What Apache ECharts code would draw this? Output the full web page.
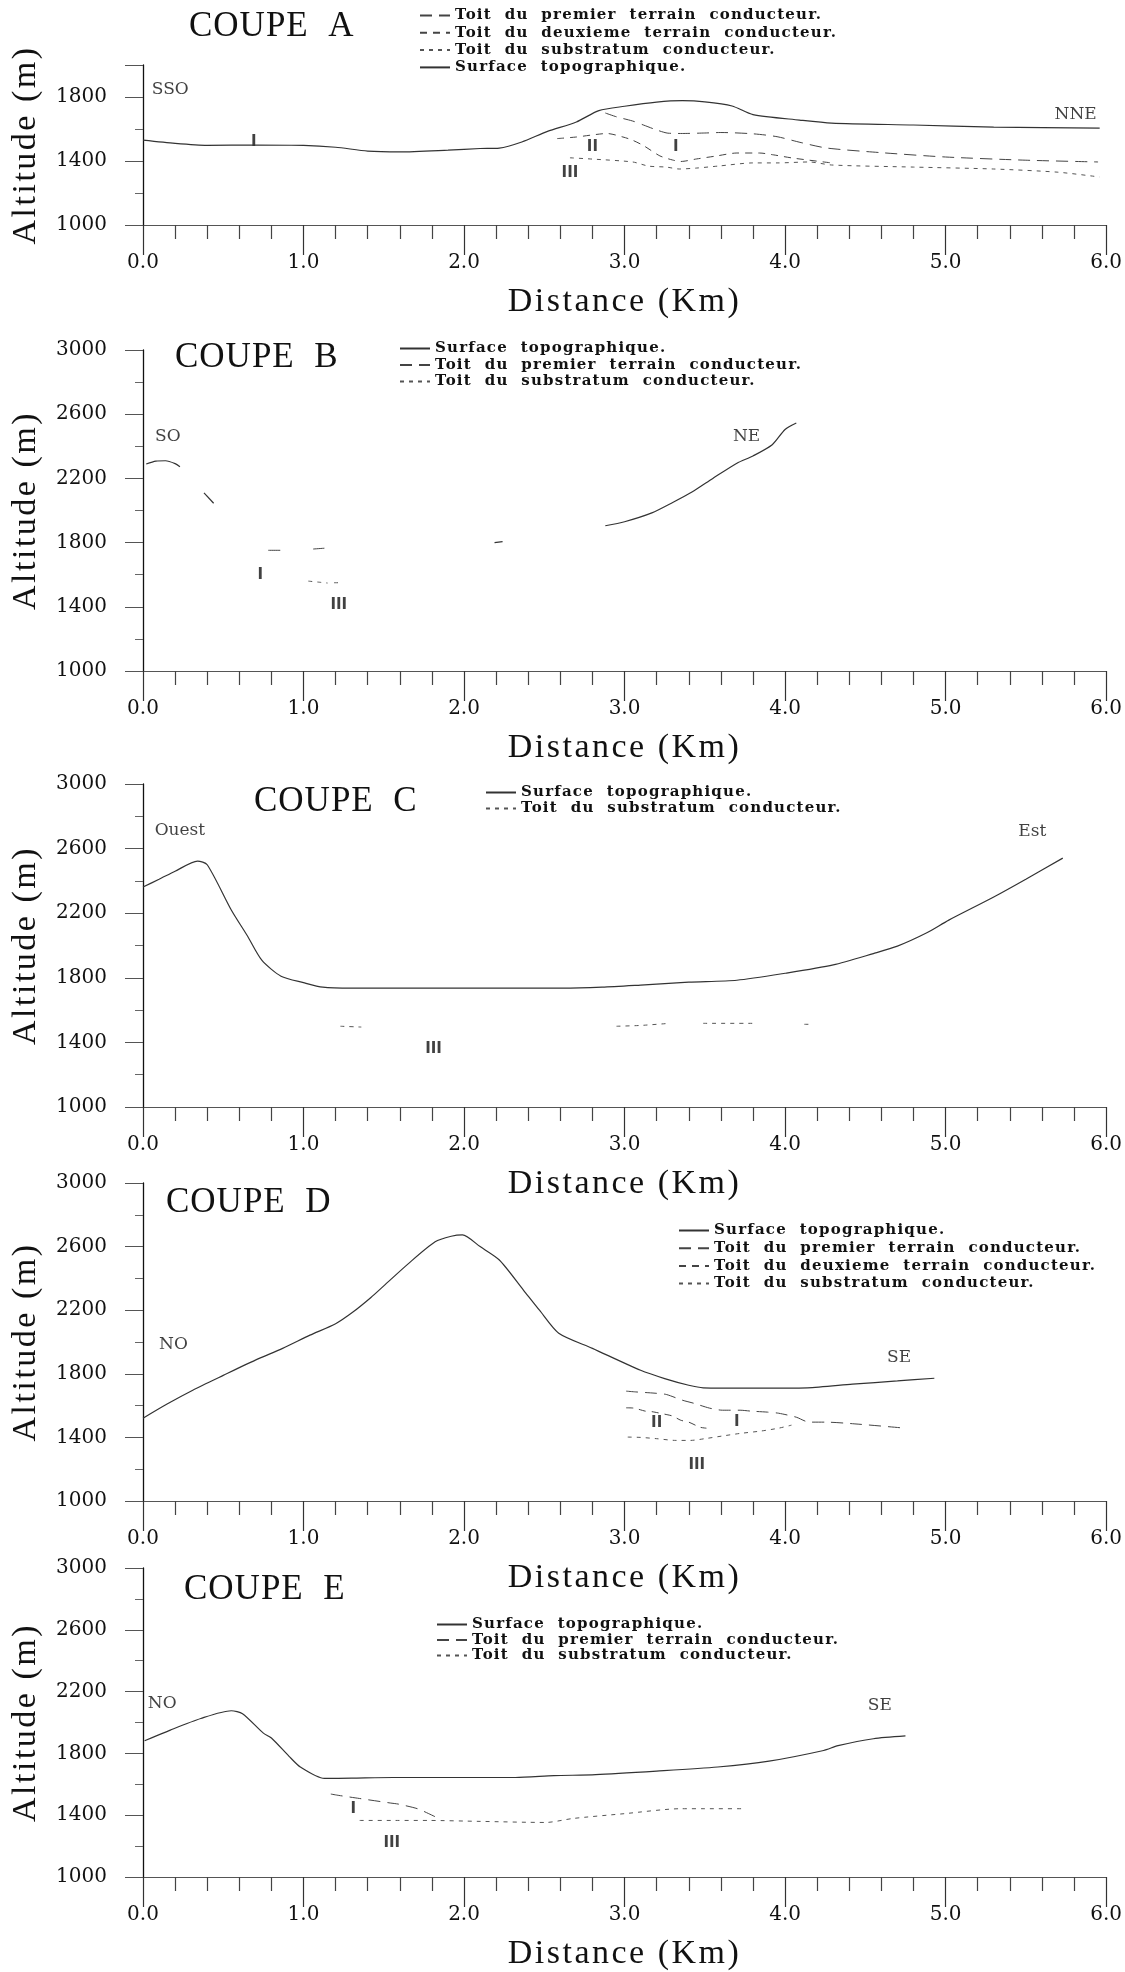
<!DOCTYPE html>
<html><head><meta charset="utf-8">
<script src="https://cdn.jsdelivr.net/npm/echarts@6/dist/echarts.min.js"></script>
<style>html,body{margin:0;padding:0;background:#fff}#c{width:1125px;height:1972px}</style>
</head><body><div id="c"></div>
<script>
// plotter-like letter spacing for some texts (text stays real canvas text)
(function(){
  const P = CanvasRenderingContext2D.prototype;
  if (!('letterSpacing' in P)) return;
  const orig = P.fillText;
  P.fillText = function(t, x, y, w){
    const f = this.font || '';
    let ls = '0px';
    if (/Liberation Serif/.test(f)) {
      if (/(^|\s)35px/.test(f)) ls = '1px';
      else if (/(^|\s)34px/.test(f)) ls = '2.5px';
    } else if (/DejaVu Serif/.test(f) && /(bold|700)/.test(f) && /(^|\s)15px/.test(f)) ls = '1.2px';
    this.letterSpacing = ls;
    return w === undefined ? orig.call(this, t, x, y) : orig.call(this, t, x, y, w);
  };
})();

// ---------- names ----------
const N_TOPO = 'Surface topographique.';
const N_I = 'Toit du premier terrain conducteur.';
const N_II = 'Toit du deuxieme terrain conducteur.';
const N_III = 'Toit du substratum conducteur.';
const xTickLabels = ['0.0','1.0','2.0','3.0','4.0','5.0','6.0'];

// ---------- COUPE A (distance km, altitude m); each array = list of segments ----------
const topoA = [[[0.0,1530],[0.2,1510],[0.4,1498],[0.7,1500],[1.0,1498],[1.2,1486],[1.4,1462],[1.6,1457],[1.9,1468],[2.1,1478],[2.22,1481],[2.36,1519],[2.52,1585],[2.70,1644],[2.84,1715],[3.0,1742],[3.2,1768],[3.36,1777],[3.5,1770],[3.67,1744],[3.80,1690],[4.09,1656],[4.29,1637],[4.8,1625],[5.3,1612],[5.96,1606]]];
const premA = [[[2.88,1700],[2.95,1676],[3.05,1650],[3.12,1624],[3.2,1594],[3.27,1574],[3.36,1572],[3.5,1575],[3.6,1578],[3.8,1570],[3.95,1552],[4.1,1515],[4.26,1481],[4.6,1452],[5.0,1425],[5.5,1405],[5.95,1394]]];
const deuxA = [[[2.58,1540],[2.7,1550],[2.8,1563],[2.89,1572],[2.99,1550],[3.05,1530],[3.12,1495],[3.22,1432],[3.3,1406],[3.35,1397],[3.45,1413],[3.57,1431],[3.7,1450],[3.84,1450],[3.93,1438],[4.05,1418],[4.29,1388]]];
const substA = [[[2.66,1420],[2.8,1412],[3.05,1394],[3.15,1368],[3.26,1362],[3.34,1350],[3.45,1356],[3.59,1369],[3.8,1388],[3.95,1388],[4.15,1394],[4.29,1375],[4.8,1362],[5.3,1350],[5.7,1330],[5.96,1300]]];
const notesA = [[0.17,1844,'SSO'],[5.81,1688,'NNE'],[3.32,1488,'I'],[2.80,1488,'II'],[2.66,1325,'III'],[0.69,1520,'I']];

// ---------- COUPE B ----------
const topoB = [
  [[0.02,2290],[0.08,2308],[0.14,2310],[0.2,2292],[0.23,2272]],
  [[0.38,2110],[0.44,2045]],
  [[2.19,1800],[2.24,1806]],
  [[2.88,1905],[3.0,1930],[3.17,1985],[3.3,2050],[3.42,2115],[3.55,2200],[3.7,2295],[3.8,2340],[3.92,2410],[4.0,2505],[4.07,2545]]
];
const premB = [[[0.78,1752],[0.86,1752]],[[1.06,1760],[1.13,1765]]];
const substB = [[[1.03,1560],[1.1,1553],[1.15,1548]],[[1.19,1550],[1.24,1550]]];
const notesB = [[0.155,2458,'SO'],[3.76,2458,'NE'],[0.73,1597,'I'],[1.22,1410,'III']];

// ---------- COUPE C ----------
const topoC = [[[0,2362],[0.1,2410],[0.2,2460],[0.34,2523],[0.4,2500],[0.55,2220],[0.65,2060],[0.74,1909],[0.86,1810],[1.0,1770],[1.12,1742],[1.3,1736],[1.6,1736],[1.95,1736],[2.3,1736],[2.61,1736],[2.86,1742],[3.1,1755],[3.4,1773],[3.7,1785],[4.0,1828],[4.3,1880],[4.55,1950],[4.7,1996],[4.88,2077],[5.02,2157],[5.3,2300],[5.5,2410],[5.73,2541]]];
const substC = [[[1.23,1500],[1.36,1495]],[[2.95,1500],[3.1,1505],[3.28,1518]],[[3.49,1518],[3.81,1518]],[[4.12,1512],[4.16,1512]]];
const notesC = [[0.23,2709,'Ouest'],[5.54,2703,'Est'],[1.81,1358,'III']];

// ---------- COUPE D ----------
const topoD = [[[0,1521],[0.15,1610],[0.31,1697],[0.5,1790],[0.7,1886],[0.87,1960],[1.04,2043],[1.2,2115],[1.31,2190],[1.42,2280],[1.5,2353],[1.65,2490],[1.82,2630],[1.92,2665],[1.99,2674],[2.1,2600],[2.22,2516],[2.37,2327],[2.47,2200],[2.59,2055],[2.8,1960],[3.10,1822],[3.25,1770],[3.40,1728],[3.49,1712],[3.8,1710],[4.14,1712],[4.42,1735],[4.7,1755],[4.93,1772]]];
const premD = [[[3.01,1691],[3.07,1686],[3.19,1678],[3.26,1670],[3.36,1634],[3.43,1615],[3.53,1584],[3.61,1571],[3.72,1571],[3.79,1565],[3.89,1559],[3.96,1552],[4.07,1527],[4.15,1496],[4.25,1496],[4.46,1483],[4.75,1458]]];
const deuxD = [[[3.01,1586],[3.06,1584],[3.13,1565],[3.17,1562],[3.25,1546],[3.30,1534],[3.35,1508],[3.40,1496],[3.47,1464],[3.51,1458]]];
const substD = [[[3.02,1402],[3.1,1400],[3.2,1392],[3.32,1381],[3.41,1381],[3.5,1392],[3.63,1412],[3.72,1425],[3.85,1440],[3.96,1458],[4.04,1477]]];
const notesD = [[0.19,1981,'NO'],[4.71,1899,'SE'],[3.70,1496,'I'],[3.20,1490,'II'],[3.45,1224,'III']];

// ---------- COUPE E ----------
const topoE = [[[0.01,1882],[0.17,1951],[0.36,2026],[0.55,2076],[0.62,2057],[0.75,1931],[0.8,1900],[0.91,1781],[0.98,1712],[1.13,1638],[1.3,1640],[1.56,1644],[1.9,1644],[2.32,1644],[2.56,1656],[2.82,1662],[3.2,1685],[3.58,1712],[3.9,1750],[4.24,1819],[4.33,1850],[4.55,1895],[4.75,1913]]];
const premE = [[[1.17,1537],[1.22,1528],[1.35,1508],[1.54,1479],[1.59,1472],[1.71,1442],[1.78,1410],[1.84,1380]]];
const substE = [[[1.35,1366],[1.57,1366],[1.78,1366],[2.1,1360],[2.51,1353],[2.68,1379],[3.0,1410],[3.35,1442],[3.5,1442],[3.75,1442]]];
const notesE = [[0.12,2120,'NO'],[4.59,2108,'SE'],[1.31,1442,'I'],[1.55,1222,'III']];

// ---------- layout ----------
const panels = [
  {title:'COUPE  A', tl:[189,9], grid:{top:65,height:160}, yMax:2000,
   lines:[[N_I,premA],[N_II,deuxA],[N_III,substA],[N_TOPO,topoA]], notes:notesA,
   legend:{names:[N_I,N_II,N_III,N_TOPO], left:419, top:8, gap:2.3, lh:14}},
  {title:'COUPE  B', tl:[175,340], grid:{top:350,height:321}, yMax:3000,
   lines:[[N_TOPO,topoB],[N_I,premB],[N_III,substB]], notes:notesB,
   legend:{names:[N_TOPO,N_I,N_III], left:399, top:341, gap:1.5, lh:14}},
  {title:'COUPE  C', tl:[254,784], grid:{top:784,height:323}, yMax:3000,
   lines:[[N_TOPO,topoC],[N_III,substC]], notes:notesC,
   legend:{names:[N_TOPO,N_III], left:485, top:785, gap:1, lh:14}},
  {title:'COUPE  D', tl:[166,1185], grid:{top:1183,height:318}, yMax:3000,
   lines:[[N_TOPO,topoD],[N_I,premD],[N_II,deuxD],[N_III,substD]], notes:notesD,
   legend:{names:[N_TOPO,N_I,N_II,N_III], left:678, top:1223, gap:2.7, lh:14}},
  {title:'COUPE  E', tl:[184,1572], grid:{top:1568,height:318}, yMax:3000,
   lines:[[N_TOPO,topoE],[N_I,premE],[N_III,substE]], notes:notesE,
   legend:{names:[N_TOPO,N_I,N_III], left:436, top:1617, gap:0.5, lh:13}}
];

const styles = {};
styles[N_TOPO] = {color:'#333', width:1.2, type:'solid'};
styles[N_I] = {color:'#444', width:1, type:[12,7]};
styles[N_II] = {color:'#444', width:1, type:[7,6]};
styles[N_III] = {color:'#555', width:1, type:[4,5]};

const serif = 'DejaVu Serif';
const grids=[], xAxes=[], yAxes=[], series=[], titles=[], legends=[];
panels.forEach((p,i)=>{
  grids.push({left:143, width:964, top:p.grid.top, height:p.grid.height});
  xAxes.push({gridIndex:i, type:'value', min:0, max:6, interval:1,
    axisLine:{show:true, onZero:false, lineStyle:{color:'#555', width:1}},
    axisTick:{show:true, length:30, lineStyle:{color:'#333', width:1.2}},
    minorTick:{show:true, splitNumber:5, length:14, lineStyle:{color:'#444', width:1.2}},
    splitLine:{show:false}, minorSplitLine:{show:false},
    axisLabel:{margin:28, formatter:v=>xTickLabels[Math.round(v)], fontFamily:serif, fontSize:20, color:'#111'},
    name:'Distance (Km)', nameLocation:'middle', nameGap:60,
    nameTextStyle:{fontFamily:'Liberation Serif', fontSize:34, color:'#111'}});
  yAxes.push({gridIndex:i, type:'value', min:1000, max:p.yMax, interval:400,
    axisLine:{show:true, lineStyle:{color:'#111', width:1.3}},
    axisTick:{show:true, length:18, lineStyle:{color:'#555'}},
    minorTick:{show:true, splitNumber:2, length:8, lineStyle:{color:'#666'}},
    splitLine:{show:false}, minorSplitLine:{show:false},
    axisLabel:{margin:36, formatter:v=>String(v), fontFamily:serif, fontSize:20, color:'#111', showMaxLabel:p.yMax===3000},
    name:'Altitude (m)', nameLocation:'middle', nameGap:100, nameRotate:90,
    nameTextStyle:{fontFamily:'Liberation Serif', fontSize:34, color:'#111'}});
  titles.push({text:p.title, left:p.tl[0], top:p.tl[1], padding:0,
    textStyle:{fontFamily:'Liberation Serif', fontSize:35, fontWeight:'normal', color:'#111'}});
  legends.push({orient:'vertical', left:p.legend.left, top:p.legend.top, padding:0,
    itemWidth:30, itemHeight:10, itemGap:p.legend.gap, selectedMode:false,
    itemStyle:{opacity:0},
    data:p.legend.names, formatter:n=>n.replace(/ /g,'  '),
    textStyle:{fontFamily:serif, fontSize:15, fontWeight:'bold', color:'#111', lineHeight:p.legend.lh}});
  p.lines.forEach(([name, segs])=>{
    segs.forEach(seg=>{
      series.push({type:'line', name:name, xAxisIndex:i, yAxisIndex:i, data:seg,
        symbol:'none', showSymbol:false, smooth:0.25, silent:true,
        lineStyle:styles[name], itemStyle:{color:styles[name].color}});
    });
  });
  series.push({type:'scatter', name:'notes'+i, xAxisIndex:i, yAxisIndex:i, symbolSize:1, silent:true,
    itemStyle:{color:'rgba(0,0,0,0)'},
    data:p.notes.map(n=>{
      const roman = /^I+$/.test(n[2]);
      return {value:[n[0],n[1]], name:n[2], label:{show:true, position:'inside', formatter:n[2],
        fontFamily: roman ? 'DejaVu Sans' : serif, fontWeight: roman ? 'bold':'normal',
        fontSize: roman ? 15 : 17, color:'#111'}};
    })});
});

const chart = echarts.init(document.getElementById('c'), null, {renderer:'canvas'});
chart.setOption({animation:false, backgroundColor:'#fff', title:titles, legend:legends,
  grid:grids, xAxis:xAxes, yAxis:yAxes, series:series});
</script></body></html>
